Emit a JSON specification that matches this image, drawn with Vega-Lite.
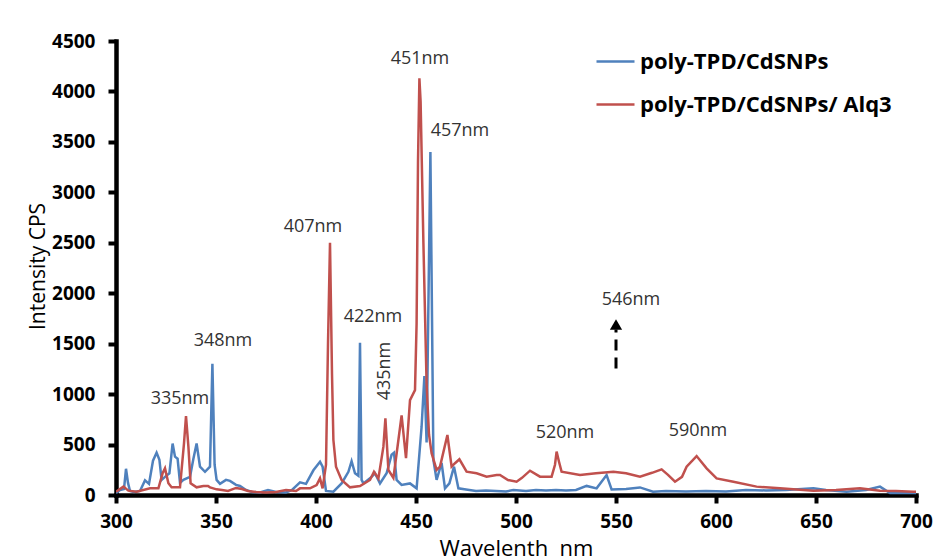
{
  "$schema": "https://vega.github.io/schema/vega-lite/v6.json",
  "width": 800,
  "height": 454,
  "autosize": "none",
  "padding": {"left": 116, "top": 41, "right": 34, "bottom": 65},
  "background": "white",
  "config": {
    "view": {"stroke": null},
    "font": "Open Sans",
    "axis": {
      "grid": false,
      "domainColor": "black",
      "domainWidth": 4.5,
      "domainCap": "square",
      "tickColor": "black",
      "tickWidth": 4,
      "tickSize": 8,
      "labelFont": "Open Sans",
      "labelFontWeight": "bold",
      "labelFontSize": 19,
      "labelColor": "black",
      "labelFlush": false,
      "labelOverlap": false,
      "titleFont": "Open Sans",
      "titleFontWeight": "normal",
      "titleColor": "black"
    }
  },
  "datasets": {
    "spectra": [
      {"series": "poly-TPD/CdSNPs", "wl": 300, "v": 20},
      {"series": "poly-TPD/CdSNPs", "wl": 302, "v": 50},
      {"series": "poly-TPD/CdSNPs", "wl": 304, "v": 60},
      {"series": "poly-TPD/CdSNPs", "wl": 305, "v": 260},
      {"series": "poly-TPD/CdSNPs", "wl": 306, "v": 120},
      {"series": "poly-TPD/CdSNPs", "wl": 307, "v": 40},
      {"series": "poly-TPD/CdSNPs", "wl": 309, "v": 30},
      {"series": "poly-TPD/CdSNPs", "wl": 312, "v": 40},
      {"series": "poly-TPD/CdSNPs", "wl": 314.5, "v": 145},
      {"series": "poly-TPD/CdSNPs", "wl": 316.5, "v": 110},
      {"series": "poly-TPD/CdSNPs", "wl": 318.5, "v": 340},
      {"series": "poly-TPD/CdSNPs", "wl": 320.3, "v": 420},
      {"series": "poly-TPD/CdSNPs", "wl": 321.7, "v": 350},
      {"series": "poly-TPD/CdSNPs", "wl": 322.8, "v": 150},
      {"series": "poly-TPD/CdSNPs", "wl": 324.5, "v": 180},
      {"series": "poly-TPD/CdSNPs", "wl": 326.7, "v": 215},
      {"series": "poly-TPD/CdSNPs", "wl": 328.3, "v": 510},
      {"series": "poly-TPD/CdSNPs", "wl": 329.5, "v": 380},
      {"series": "poly-TPD/CdSNPs", "wl": 330.8, "v": 360},
      {"series": "poly-TPD/CdSNPs", "wl": 332, "v": 120},
      {"series": "poly-TPD/CdSNPs", "wl": 333.7, "v": 150},
      {"series": "poly-TPD/CdSNPs", "wl": 337, "v": 180},
      {"series": "poly-TPD/CdSNPs", "wl": 338.7, "v": 360},
      {"series": "poly-TPD/CdSNPs", "wl": 340.3, "v": 510},
      {"series": "poly-TPD/CdSNPs", "wl": 342, "v": 280},
      {"series": "poly-TPD/CdSNPs", "wl": 344.5, "v": 230},
      {"series": "poly-TPD/CdSNPs", "wl": 347, "v": 280},
      {"series": "poly-TPD/CdSNPs", "wl": 348.2, "v": 1300},
      {"series": "poly-TPD/CdSNPs", "wl": 349.3, "v": 300},
      {"series": "poly-TPD/CdSNPs", "wl": 350.3, "v": 150},
      {"series": "poly-TPD/CdSNPs", "wl": 352, "v": 110},
      {"series": "poly-TPD/CdSNPs", "wl": 355, "v": 150},
      {"series": "poly-TPD/CdSNPs", "wl": 357, "v": 140},
      {"series": "poly-TPD/CdSNPs", "wl": 360, "v": 100},
      {"series": "poly-TPD/CdSNPs", "wl": 362, "v": 90},
      {"series": "poly-TPD/CdSNPs", "wl": 365, "v": 50},
      {"series": "poly-TPD/CdSNPs", "wl": 368, "v": 30},
      {"series": "poly-TPD/CdSNPs", "wl": 372, "v": 25},
      {"series": "poly-TPD/CdSNPs", "wl": 376, "v": 50},
      {"series": "poly-TPD/CdSNPs", "wl": 380, "v": 30},
      {"series": "poly-TPD/CdSNPs", "wl": 385, "v": 25},
      {"series": "poly-TPD/CdSNPs", "wl": 388, "v": 50},
      {"series": "poly-TPD/CdSNPs", "wl": 392, "v": 125},
      {"series": "poly-TPD/CdSNPs", "wl": 395, "v": 110},
      {"series": "poly-TPD/CdSNPs", "wl": 398.7, "v": 245},
      {"series": "poly-TPD/CdSNPs", "wl": 402, "v": 330},
      {"series": "poly-TPD/CdSNPs", "wl": 403.3, "v": 280},
      {"series": "poly-TPD/CdSNPs", "wl": 405, "v": 40},
      {"series": "poly-TPD/CdSNPs", "wl": 408.7, "v": 33},
      {"series": "poly-TPD/CdSNPs", "wl": 412.8, "v": 115},
      {"series": "poly-TPD/CdSNPs", "wl": 416.2, "v": 230},
      {"series": "poly-TPD/CdSNPs", "wl": 417.8, "v": 335},
      {"series": "poly-TPD/CdSNPs", "wl": 419.5, "v": 215},
      {"series": "poly-TPD/CdSNPs", "wl": 421.2, "v": 190},
      {"series": "poly-TPD/CdSNPs", "wl": 422, "v": 1510},
      {"series": "poly-TPD/CdSNPs", "wl": 422.8, "v": 150},
      {"series": "poly-TPD/CdSNPs", "wl": 423.7, "v": 115},
      {"series": "poly-TPD/CdSNPs", "wl": 427, "v": 165},
      {"series": "poly-TPD/CdSNPs", "wl": 429.5, "v": 215},
      {"series": "poly-TPD/CdSNPs", "wl": 432, "v": 115},
      {"series": "poly-TPD/CdSNPs", "wl": 435.3, "v": 215},
      {"series": "poly-TPD/CdSNPs", "wl": 437.8, "v": 400},
      {"series": "poly-TPD/CdSNPs", "wl": 439, "v": 420},
      {"series": "poly-TPD/CdSNPs", "wl": 440.3, "v": 150},
      {"series": "poly-TPD/CdSNPs", "wl": 442.8, "v": 100},
      {"series": "poly-TPD/CdSNPs", "wl": 447, "v": 115},
      {"series": "poly-TPD/CdSNPs", "wl": 450.3, "v": 66},
      {"series": "poly-TPD/CdSNPs", "wl": 452.8, "v": 677},
      {"series": "poly-TPD/CdSNPs", "wl": 454.2, "v": 1180},
      {"series": "poly-TPD/CdSNPs", "wl": 455.3, "v": 520},
      {"series": "poly-TPD/CdSNPs", "wl": 457.2, "v": 3400},
      {"series": "poly-TPD/CdSNPs", "wl": 458.7, "v": 347},
      {"series": "poly-TPD/CdSNPs", "wl": 460.3, "v": 150},
      {"series": "poly-TPD/CdSNPs", "wl": 462.8, "v": 317},
      {"series": "poly-TPD/CdSNPs", "wl": 464.5, "v": 66},
      {"series": "poly-TPD/CdSNPs", "wl": 466.7, "v": 115},
      {"series": "poly-TPD/CdSNPs", "wl": 469, "v": 281},
      {"series": "poly-TPD/CdSNPs", "wl": 471.2, "v": 66},
      {"series": "poly-TPD/CdSNPs", "wl": 475, "v": 55},
      {"series": "poly-TPD/CdSNPs", "wl": 480, "v": 40},
      {"series": "poly-TPD/CdSNPs", "wl": 485, "v": 45},
      {"series": "poly-TPD/CdSNPs", "wl": 490, "v": 40},
      {"series": "poly-TPD/CdSNPs", "wl": 495, "v": 35},
      {"series": "poly-TPD/CdSNPs", "wl": 498.7, "v": 50},
      {"series": "poly-TPD/CdSNPs", "wl": 505, "v": 40},
      {"series": "poly-TPD/CdSNPs", "wl": 510, "v": 50},
      {"series": "poly-TPD/CdSNPs", "wl": 515, "v": 45},
      {"series": "poly-TPD/CdSNPs", "wl": 520, "v": 50},
      {"series": "poly-TPD/CdSNPs", "wl": 525, "v": 45},
      {"series": "poly-TPD/CdSNPs", "wl": 530, "v": 50},
      {"series": "poly-TPD/CdSNPs", "wl": 535.3, "v": 90},
      {"series": "poly-TPD/CdSNPs", "wl": 540.3, "v": 66},
      {"series": "poly-TPD/CdSNPs", "wl": 545.3, "v": 198},
      {"series": "poly-TPD/CdSNPs", "wl": 547.8, "v": 55},
      {"series": "poly-TPD/CdSNPs", "wl": 555, "v": 60},
      {"series": "poly-TPD/CdSNPs", "wl": 562, "v": 75},
      {"series": "poly-TPD/CdSNPs", "wl": 568.5, "v": 33},
      {"series": "poly-TPD/CdSNPs", "wl": 575, "v": 40},
      {"series": "poly-TPD/CdSNPs", "wl": 585, "v": 35},
      {"series": "poly-TPD/CdSNPs", "wl": 595, "v": 40},
      {"series": "poly-TPD/CdSNPs", "wl": 605, "v": 35},
      {"series": "poly-TPD/CdSNPs", "wl": 615, "v": 50},
      {"series": "poly-TPD/CdSNPs", "wl": 625, "v": 45},
      {"series": "poly-TPD/CdSNPs", "wl": 635, "v": 50},
      {"series": "poly-TPD/CdSNPs", "wl": 648.7, "v": 66},
      {"series": "poly-TPD/CdSNPs", "wl": 655, "v": 50},
      {"series": "poly-TPD/CdSNPs", "wl": 665.3, "v": 33},
      {"series": "poly-TPD/CdSNPs", "wl": 675, "v": 50},
      {"series": "poly-TPD/CdSNPs", "wl": 682, "v": 83},
      {"series": "poly-TPD/CdSNPs", "wl": 687, "v": 20},
      {"series": "poly-TPD/CdSNPs", "wl": 695, "v": 20},
      {"series": "poly-TPD/CdSNPs", "wl": 700, "v": 20},
      {"series": "poly-TPD/CdSNPs/ Alq3", "wl": 300, "v": 33},
      {"series": "poly-TPD/CdSNPs/ Alq3", "wl": 303.7, "v": 83},
      {"series": "poly-TPD/CdSNPs/ Alq3", "wl": 306.2, "v": 43},
      {"series": "poly-TPD/CdSNPs/ Alq3", "wl": 310.3, "v": 33},
      {"series": "poly-TPD/CdSNPs/ Alq3", "wl": 317, "v": 66},
      {"series": "poly-TPD/CdSNPs/ Alq3", "wl": 321.2, "v": 66},
      {"series": "poly-TPD/CdSNPs/ Alq3", "wl": 323.3, "v": 215},
      {"series": "poly-TPD/CdSNPs/ Alq3", "wl": 324.5, "v": 264},
      {"series": "poly-TPD/CdSNPs/ Alq3", "wl": 326.2, "v": 116},
      {"series": "poly-TPD/CdSNPs/ Alq3", "wl": 327.8, "v": 76},
      {"series": "poly-TPD/CdSNPs/ Alq3", "wl": 332, "v": 76},
      {"series": "poly-TPD/CdSNPs/ Alq3", "wl": 334, "v": 512},
      {"series": "poly-TPD/CdSNPs/ Alq3", "wl": 335, "v": 783},
      {"series": "poly-TPD/CdSNPs/ Alq3", "wl": 336.2, "v": 479},
      {"series": "poly-TPD/CdSNPs/ Alq3", "wl": 337.3, "v": 116},
      {"series": "poly-TPD/CdSNPs/ Alq3", "wl": 340.3, "v": 76},
      {"series": "poly-TPD/CdSNPs/ Alq3", "wl": 343.7, "v": 89},
      {"series": "poly-TPD/CdSNPs/ Alq3", "wl": 346, "v": 90},
      {"series": "poly-TPD/CdSNPs/ Alq3", "wl": 347, "v": 76},
      {"series": "poly-TPD/CdSNPs/ Alq3", "wl": 350.3, "v": 56},
      {"series": "poly-TPD/CdSNPs/ Alq3", "wl": 353, "v": 50},
      {"series": "poly-TPD/CdSNPs/ Alq3", "wl": 356, "v": 40},
      {"series": "poly-TPD/CdSNPs/ Alq3", "wl": 360, "v": 70},
      {"series": "poly-TPD/CdSNPs/ Alq3", "wl": 363, "v": 60},
      {"series": "poly-TPD/CdSNPs/ Alq3", "wl": 366, "v": 40},
      {"series": "poly-TPD/CdSNPs/ Alq3", "wl": 370, "v": 30},
      {"series": "poly-TPD/CdSNPs/ Alq3", "wl": 375, "v": 25},
      {"series": "poly-TPD/CdSNPs/ Alq3", "wl": 380, "v": 30},
      {"series": "poly-TPD/CdSNPs/ Alq3", "wl": 385, "v": 50},
      {"series": "poly-TPD/CdSNPs/ Alq3", "wl": 390, "v": 40},
      {"series": "poly-TPD/CdSNPs/ Alq3", "wl": 392, "v": 66},
      {"series": "poly-TPD/CdSNPs/ Alq3", "wl": 397, "v": 66},
      {"series": "poly-TPD/CdSNPs/ Alq3", "wl": 400.3, "v": 99},
      {"series": "poly-TPD/CdSNPs/ Alq3", "wl": 402, "v": 165},
      {"series": "poly-TPD/CdSNPs/ Alq3", "wl": 403.3, "v": 66},
      {"series": "poly-TPD/CdSNPs/ Alq3", "wl": 405, "v": 300},
      {"series": "poly-TPD/CdSNPs/ Alq3", "wl": 406, "v": 1500},
      {"series": "poly-TPD/CdSNPs/ Alq3", "wl": 407, "v": 2500},
      {"series": "poly-TPD/CdSNPs/ Alq3", "wl": 408, "v": 1200},
      {"series": "poly-TPD/CdSNPs/ Alq3", "wl": 408.7, "v": 545},
      {"series": "poly-TPD/CdSNPs/ Alq3", "wl": 410, "v": 281},
      {"series": "poly-TPD/CdSNPs/ Alq3", "wl": 412.8, "v": 149},
      {"series": "poly-TPD/CdSNPs/ Alq3", "wl": 417, "v": 76},
      {"series": "poly-TPD/CdSNPs/ Alq3", "wl": 422, "v": 89},
      {"series": "poly-TPD/CdSNPs/ Alq3", "wl": 427, "v": 149},
      {"series": "poly-TPD/CdSNPs/ Alq3", "wl": 429, "v": 231},
      {"series": "poly-TPD/CdSNPs/ Alq3", "wl": 431.2, "v": 165},
      {"series": "poly-TPD/CdSNPs/ Alq3", "wl": 433.7, "v": 479},
      {"series": "poly-TPD/CdSNPs/ Alq3", "wl": 434.7, "v": 760},
      {"series": "poly-TPD/CdSNPs/ Alq3", "wl": 436.2, "v": 248},
      {"series": "poly-TPD/CdSNPs/ Alq3", "wl": 438.7, "v": 170},
      {"series": "poly-TPD/CdSNPs/ Alq3", "wl": 441.2, "v": 545},
      {"series": "poly-TPD/CdSNPs/ Alq3", "wl": 442.8, "v": 790},
      {"series": "poly-TPD/CdSNPs/ Alq3", "wl": 445, "v": 365},
      {"series": "poly-TPD/CdSNPs/ Alq3", "wl": 447, "v": 940},
      {"series": "poly-TPD/CdSNPs/ Alq3", "wl": 449.5, "v": 1040},
      {"series": "poly-TPD/CdSNPs/ Alq3", "wl": 450.3, "v": 1700},
      {"series": "poly-TPD/CdSNPs/ Alq3", "wl": 451, "v": 3300},
      {"series": "poly-TPD/CdSNPs/ Alq3", "wl": 451.7, "v": 4130},
      {"series": "poly-TPD/CdSNPs/ Alq3", "wl": 452.3, "v": 3900},
      {"series": "poly-TPD/CdSNPs/ Alq3", "wl": 453.7, "v": 2500},
      {"series": "poly-TPD/CdSNPs/ Alq3", "wl": 455.3, "v": 1100},
      {"series": "poly-TPD/CdSNPs/ Alq3", "wl": 456.5, "v": 600},
      {"series": "poly-TPD/CdSNPs/ Alq3", "wl": 457.8, "v": 414},
      {"series": "poly-TPD/CdSNPs/ Alq3", "wl": 460.3, "v": 248},
      {"series": "poly-TPD/CdSNPs/ Alq3", "wl": 462, "v": 281},
      {"series": "poly-TPD/CdSNPs/ Alq3", "wl": 465.7, "v": 595},
      {"series": "poly-TPD/CdSNPs/ Alq3", "wl": 467.8, "v": 281},
      {"series": "poly-TPD/CdSNPs/ Alq3", "wl": 469.5, "v": 315},
      {"series": "poly-TPD/CdSNPs/ Alq3", "wl": 471.7, "v": 354},
      {"series": "poly-TPD/CdSNPs/ Alq3", "wl": 475.3, "v": 231},
      {"series": "poly-TPD/CdSNPs/ Alq3", "wl": 480.3, "v": 215},
      {"series": "poly-TPD/CdSNPs/ Alq3", "wl": 485.3, "v": 182},
      {"series": "poly-TPD/CdSNPs/ Alq3", "wl": 490.3, "v": 198},
      {"series": "poly-TPD/CdSNPs/ Alq3", "wl": 492, "v": 198},
      {"series": "poly-TPD/CdSNPs/ Alq3", "wl": 496, "v": 149},
      {"series": "poly-TPD/CdSNPs/ Alq3", "wl": 500.3, "v": 132},
      {"series": "poly-TPD/CdSNPs/ Alq3", "wl": 503, "v": 170},
      {"series": "poly-TPD/CdSNPs/ Alq3", "wl": 507, "v": 241},
      {"series": "poly-TPD/CdSNPs/ Alq3", "wl": 512, "v": 182},
      {"series": "poly-TPD/CdSNPs/ Alq3", "wl": 517.8, "v": 182},
      {"series": "poly-TPD/CdSNPs/ Alq3", "wl": 519.5, "v": 300},
      {"series": "poly-TPD/CdSNPs/ Alq3", "wl": 520.3, "v": 430},
      {"series": "poly-TPD/CdSNPs/ Alq3", "wl": 521.5, "v": 330},
      {"series": "poly-TPD/CdSNPs/ Alq3", "wl": 522.8, "v": 231},
      {"series": "poly-TPD/CdSNPs/ Alq3", "wl": 532, "v": 198},
      {"series": "poly-TPD/CdSNPs/ Alq3", "wl": 540, "v": 215},
      {"series": "poly-TPD/CdSNPs/ Alq3", "wl": 548.7, "v": 231},
      {"series": "poly-TPD/CdSNPs/ Alq3", "wl": 555, "v": 215},
      {"series": "poly-TPD/CdSNPs/ Alq3", "wl": 562, "v": 182},
      {"series": "poly-TPD/CdSNPs/ Alq3", "wl": 568, "v": 220},
      {"series": "poly-TPD/CdSNPs/ Alq3", "wl": 572.8, "v": 254},
      {"series": "poly-TPD/CdSNPs/ Alq3", "wl": 576, "v": 200},
      {"series": "poly-TPD/CdSNPs/ Alq3", "wl": 579.5, "v": 132},
      {"series": "poly-TPD/CdSNPs/ Alq3", "wl": 583, "v": 180},
      {"series": "poly-TPD/CdSNPs/ Alq3", "wl": 585.3, "v": 281},
      {"series": "poly-TPD/CdSNPs/ Alq3", "wl": 590.3, "v": 386},
      {"series": "poly-TPD/CdSNPs/ Alq3", "wl": 595.3, "v": 264},
      {"series": "poly-TPD/CdSNPs/ Alq3", "wl": 600.3, "v": 165},
      {"series": "poly-TPD/CdSNPs/ Alq3", "wl": 608.7, "v": 132},
      {"series": "poly-TPD/CdSNPs/ Alq3", "wl": 620.3, "v": 83},
      {"series": "poly-TPD/CdSNPs/ Alq3", "wl": 632, "v": 66},
      {"series": "poly-TPD/CdSNPs/ Alq3", "wl": 648.7, "v": 43},
      {"series": "poly-TPD/CdSNPs/ Alq3", "wl": 660, "v": 50},
      {"series": "poly-TPD/CdSNPs/ Alq3", "wl": 672, "v": 66},
      {"series": "poly-TPD/CdSNPs/ Alq3", "wl": 682, "v": 43},
      {"series": "poly-TPD/CdSNPs/ Alq3", "wl": 690, "v": 40},
      {"series": "poly-TPD/CdSNPs/ Alq3", "wl": 698.7, "v": 33},
      {"series": "poly-TPD/CdSNPs/ Alq3", "wl": 700, "v": 33}
    ],
    "labels": [
      {"label": "335nm", "wl": 332, "v": 951},
      {"label": "348nm", "wl": 353.5, "v": 1526},
      {"label": "407nm", "wl": 398.5, "v": 2656},
      {"label": "422nm", "wl": 428.5, "v": 1764},
      {"label": "451nm", "wl": 452, "v": 4320},
      {"label": "457nm", "wl": 472, "v": 3607},
      {"label": "520nm", "wl": 524.5, "v": 614},
      {"label": "590nm", "wl": 591, "v": 634},
      {"label": "546nm", "wl": 557.5, "v": 1932}
    ],
    "vlabels": [
      {"label": "435nm", "wl": 434.5, "v": 1229}
    ],
    "arrow": [
      {"wl": 550, "v": 1255, "v2": 1640}
    ],
    "arrowhead": [
      {"wl": 550, "v": 1690}
    ]
  },
  "layer": [
    {
      "data": {"name": "spectra"},
      "mark": {"type": "line", "strokeWidth": 2.5, "clip": true},
      "encoding": {
        "x": {
          "field": "wl", "type": "quantitative",
          "scale": {"domain": [300, 700], "nice": false},
          "axis": {
            "values": [300, 350, 400, 450, 500, 550, 600, 650, 700],
            "format": "d",
            "title": "Wavelenth\u00a0\u00a0nm",
            "titleFontSize": 22,
            "titlePadding": 7,
            "labelPadding": 9
          }
        },
        "y": {
          "field": "v", "type": "quantitative",
          "scale": {"domain": [0, 4500], "nice": false},
          "axis": {
            "values": [0, 500, 1000, 1500, 2000, 2500, 3000, 3500, 4000, 4500],
            "format": "d",
            "title": "Intensity CPS",
            "titleFontSize": 21,
            "titlePadding": 3,
            "titleY": 225,
            "labelPadding": 13
          }
        },
        "color": {
          "field": "series", "type": "nominal",
          "scale": {
            "domain": ["poly-TPD/CdSNPs", "poly-TPD/CdSNPs/ Alq3"],
            "range": ["#4F81BD", "#C0504D"]
          },
          "legend": {
            "orient": "none",
            "legendX": 479,
            "legendY": 0,
            "title": null,
            "padding": 0,
            "symbolType": "stroke",
            "symbolSize": 1444,
            "symbolStrokeWidth": 2.5,
            "labelFont": "Open Sans",
            "labelFontWeight": "bold",
            "labelFontSize": 22,
            "labelColor": "black",
            "labelOffset": 4,
            "rowPadding": 11,
            "labelLimit": 400
          }
        }
      }
    },
    {
      "data": {"name": "arrow"},
      "mark": {"type": "rule", "strokeWidth": 3, "strokeDash": [11, 7], "color": "black"},
      "encoding": {
        "x": {"field": "wl", "type": "quantitative"},
        "y": {"field": "v", "type": "quantitative"},
        "y2": {"field": "v2"}
      }
    },
    {
      "data": {"name": "arrowhead"},
      "mark": {"type": "point", "shape": "triangle-up", "filled": true, "color": "black", "size": 150, "opacity": 1},
      "encoding": {
        "x": {"field": "wl", "type": "quantitative"},
        "y": {"field": "v", "type": "quantitative"}
      }
    },
    {
      "data": {"name": "labels"},
      "mark": {"type": "text", "font": "Open Sans", "fontSize": 18, "color": "#333333", "align": "center", "baseline": "middle"},
      "encoding": {
        "x": {"field": "wl", "type": "quantitative"},
        "y": {"field": "v", "type": "quantitative"},
        "text": {"field": "label"}
      }
    },
    {
      "data": {"name": "vlabels"},
      "mark": {"type": "text", "font": "Open Sans", "fontSize": 18, "color": "#333333", "align": "center", "baseline": "middle", "angle": 270},
      "encoding": {
        "x": {"field": "wl", "type": "quantitative"},
        "y": {"field": "v", "type": "quantitative"},
        "text": {"field": "label"}
      }
    }
  ]
}
